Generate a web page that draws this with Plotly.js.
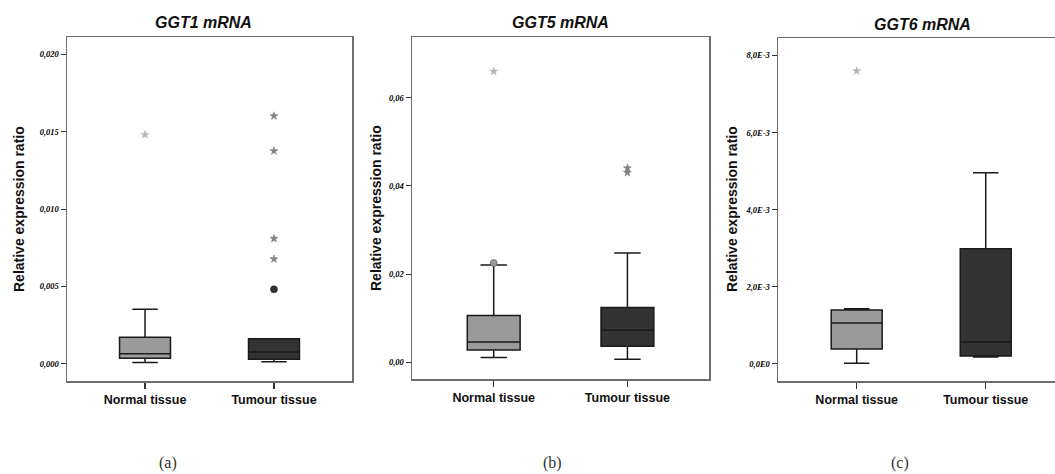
<!DOCTYPE html>
<html>
<head>
<meta charset="utf-8">
<script src="https://cdn.plot.ly/plotly-3.0.1.min.js"></script>
<style>html,body{margin:0;padding:0;background:#fff;}#chart{width:1055px;height:474px;}</style>
</head>
<body>
<div id="chart"></div>
<script>
// ---------- data ----------
const categories = ['Normal tissue', 'Tumour tissue'];
const panelTitles = ['GGT1 mRNA', 'GGT5 mRNA', 'GGT6 mRNA'];
const yTitle = 'Relative expression ratio';
const captions = ['(a)', '(b)', '(c)'];

// GGT1 box statistics [normal, tumour]
const ggt1Q1 = [0.00035, 0.00028];
const ggt1Median = [0.00065, 0.00076];
const ggt1Q3 = [0.00171, 0.00162];
const ggt1Lower = [0.00007, 0.00013];
const ggt1Upper = [0.00352, 0.00162];
const ggt1NormalStars = [0.01481];
const ggt1TumourStars = [0.01602, 0.01376, 0.00809, 0.00677];
const ggt1TumourCircles = [0.00481];
const ggt1TickVals = [0, 0.005, 0.010, 0.015, 0.020];
const ggt1TickText = ['0,000', '0,005', '0,010', '0,015', '0,020'];

// GGT5
const ggt5Q1 = [0.00279, 0.00363];
const ggt5Median = [0.0046, 0.00726];
const ggt5Q3 = [0.01059, 0.0124];
const ggt5Lower = [0.00107, 0.00068];
const ggt5Upper = [0.02206, 0.02479];
const ggt5NormalStars = [0.06599];
const ggt5NormalCircles = [0.02252];
const ggt5TumourStars = [0.04406, 0.04302];
const ggt5TickVals = [0, 0.02, 0.04, 0.06];
const ggt5TickText = ['0,00', '0,02', '0,04', '0,06'];

// GGT6
const ggt6Q1 = [0.00039, 0.000208];
const ggt6Median = [0.001065, 0.000571];
const ggt6Q3 = [0.0014, 0.002987];
const ggt6Lower = [0.00002, 0.00018];
const ggt6Upper = [0.00143, 0.004961];
const ggt6NormalStars = [0.007595];
const ggt6TickVals = [0, 0.002, 0.004, 0.006, 0.008];
const ggt6TickText = ['0,0E0', '2,0E-3', '4,0E-3', '6,0E-3', '8,0E-3'];

// ---------- styling ----------
const boxFill = ['#9a9a9a', '#333333'];
const frameColor = '#6e6e6e';
const axisFont = {family: 'Liberation Sans, Arial, sans-serif', size: 12.5, color: '#111', weight: 'bold'};
const tickFont = {family: 'Liberation Serif, Times New Roman, serif', size: 8.5, color: '#000', weight: 'bold', style: 'italic'};

function boxTraces(ax, q1, med, q3, lo, hi) {
  return categories.map((c, i) => ({
    type: 'box', xaxis: 'x' + ax, yaxis: 'y' + ax,
    x: [c], q1: [q1[i]], median: [med[i]], q3: [q3[i]],
    lowerfence: [lo[i]], upperfence: [hi[i]],
    fillcolor: boxFill[i], line: {color: '#1a1a1a', width: 1.5},
    width: 0.395, whiskerwidth: 0.5, boxpoints: false, showlegend: false,
    hoverinfo: 'skip'
  }));
}
function pts(ax, cat, vals, symbol, color, lineColor, size) {
  return {
    type: 'scatter', mode: 'markers', xaxis: 'x' + ax, yaxis: 'y' + ax,
    x: vals.map(() => cat), y: vals,
    marker: {symbol: symbol, size: size, color: color, line: {color: lineColor, width: 0.6}},
    showlegend: false, hoverinfo: 'skip'
  };
}

const data = [].concat(
  boxTraces('', ggt1Q1, ggt1Median, ggt1Q3, ggt1Lower, ggt1Upper),
  [pts('', categories[0], ggt1NormalStars, 'star', '#b5b5b5', '#b5b5b5', 6),
   pts('', categories[1], ggt1TumourStars, 'star', '#808080', '#808080', 6),
   pts('', categories[1], ggt1TumourCircles, 'circle', '#333333', '#222222', 7)],
  boxTraces('2', ggt5Q1, ggt5Median, ggt5Q3, ggt5Lower, ggt5Upper),
  [pts('2', categories[0], ggt5NormalStars, 'star', '#b5b5b5', '#b5b5b5', 6),
   pts('2', categories[0], ggt5NormalCircles, 'circle', '#9a9a9a', '#555555', 7),
   pts('2', categories[1], ggt5TumourStars, 'star', '#808080', '#808080', 6)],
  boxTraces('3', ggt6Q1, ggt6Median, ggt6Q3, ggt6Lower, ggt6Upper),
  [pts('3', categories[0], ggt6NormalStars, 'star', '#b5b5b5', '#b5b5b5', 6)]
);

function xAxis(domain, range, anchor, mirror) {
  return {
    domain: domain, anchor: anchor, type: 'category', categoryarray: categories,
    range: range, showline: true, mirror: mirror, linecolor: frameColor, linewidth: 1.5,
    ticks: 'outside', ticklen: 6, tickcolor: '#333', tickwidth: 1.2,
    showgrid: false, zeroline: false, tickfont: axisFont,
    fixedrange: true
  };
}
function yAxis(domain, range, anchor, vals, text, mirror) {
  return {
    domain: domain, anchor: anchor, range: range, tickvals: vals, ticktext: text,
    showline: true, mirror: mirror, linecolor: frameColor, linewidth: 1.5,
    ticks: 'outside', ticklen: 5, tickcolor: '#333', tickwidth: 1,
    showgrid: false, zeroline: false, tickfont: tickFont, fixedrange: true
  };
}

const titleFont = {family: 'Liberation Sans, Arial, sans-serif', size: 16, color: '#111', weight: 'bold', style: 'italic'};
const yTitleFont = {family: 'Liberation Sans, Arial, sans-serif', size: 14, color: '#111', weight: 'bold'};
const capFont = {family: 'Liberation Serif, Times New Roman, serif', size: 16, color: '#333'};
const W = 1055, H = 474;
function ann(text, px, py, font, angle) {
  return {text: text, xref: 'paper', yref: 'paper', x: px / W, y: 1 - py / H,
    xanchor: 'center', yanchor: 'middle', showarrow: false, font: font, textangle: angle || 0};
}

const layout = {
  width: W, height: H, margin: {l: 0, r: 0, t: 0, b: 0},
  paper_bgcolor: '#fff', plot_bgcolor: '#fff', boxmode: 'overlay', showlegend: false,
  xaxis: xAxis([67 / W, 352 / W], [-0.605, 1.605], 'y', true),
  yaxis: yAxis([1 - 381 / H, 1 - 37 / H], [-0.00112, 0.02113], 'x', ggt1TickVals, ggt1TickText, true),
  xaxis2: xAxis([412 / W, 709 / W], [-0.611, 1.61], 'y2', true),
  yaxis2: yAxis([1 - 379 / H, 1 - 37 / H], [-0.0038, 0.0738], 'x2', ggt5TickVals, ggt5TickText, true),
  xaxis3: xAxis([778 / W, 1], [-0.61, 1.537], 'y3', true),
  yaxis3: yAxis([1 - 381 / H, 1 - 38 / H], [-0.000442, 0.008452], 'x3', ggt6TickVals, ggt6TickText, false),
  annotations: [
    ann(panelTitles[0], 203, 23, titleFont),
    ann(panelTitles[1], 560, 23, titleFont),
    ann(panelTitles[2], 922, 24, titleFont),
    ann(yTitle, 19, 209, yTitleFont, -90),
    ann(yTitle, 376, 208, yTitleFont, -90),
    ann(yTitle, 732, 209, yTitleFont, -90),
    ann(captions[0], 168, 463, capFont),
    ann(captions[1], 552, 463, capFont),
    ann(captions[2], 900, 463, capFont)
  ]
};

Plotly.newPlot('chart', data, layout, {staticPlot: true, displayModeBar: false});
</script>
</body>
</html>
